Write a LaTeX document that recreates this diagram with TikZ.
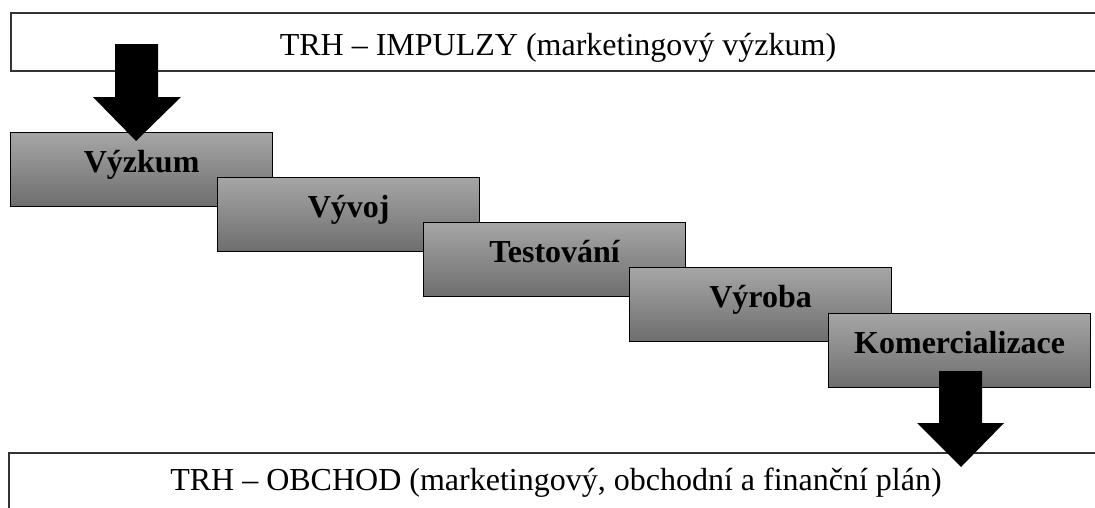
\documentclass[tikz,border=0pt]{standalone}
\usepackage{fontspec}
\setmainfont{Liberation Serif}
\begin{document}
\begin{tikzpicture}[x=1pt,y=-1pt,
  band/.style={draw=black!80,line width=1.4pt},
  bandtext/.style={anchor=base,inner sep=0pt,font=\fontsize{32}{38}\selectfont},
  stage/.style={draw=black,line width=1.3pt,rectangle,anchor=north west,
    minimum width=262pt,minimum height=74pt,inner sep=0pt,
    top color=black!35,bottom color=black!57,
    text height=22pt,text depth=16pt,
    font=\fontsize{32}{38}\selectfont\bfseries},
  blockarrow/.style={fill=black,draw=none}]
\useasboundingbox (0,0) rectangle (1095,507);
% top band
\draw[band] (1100,13) -- (11,13) -- (11,71) -- (1100,71);
\node[bandtext] (top) at (558,55) {TRH – IMPULZY (marketingový výzkum)};
% stages
\node[stage] (s1) at (10,132) {Výzkum};
\node[stage] (s2) at (217,177) {Vývoj};
\node[stage] (s3) at (423,222) {Testování};
\node[stage] (s4) at (629,267) {Výroba};
\node[stage] (s5) at (828,313) {Komercializace};
% bottom band
\draw[band] (1100,453) -- (9,453) -- (9,520);
\node[bandtext] (bot) at (556,490) {TRH – OBCHOD (marketingový, obchodní a finanční plán)};
% block arrows
\fill[blockarrow] (115,44) -- (158,44) -- (158,97) -- (181,97) -- (136,141) -- (93,97) -- (115,97) -- cycle;
\fill[blockarrow] (939,371) -- (982,371) -- (982,423) -- (1004,423) -- (961,467) -- (917,423) -- (939,423) -- cycle;
\end{tikzpicture}
\end{document}
